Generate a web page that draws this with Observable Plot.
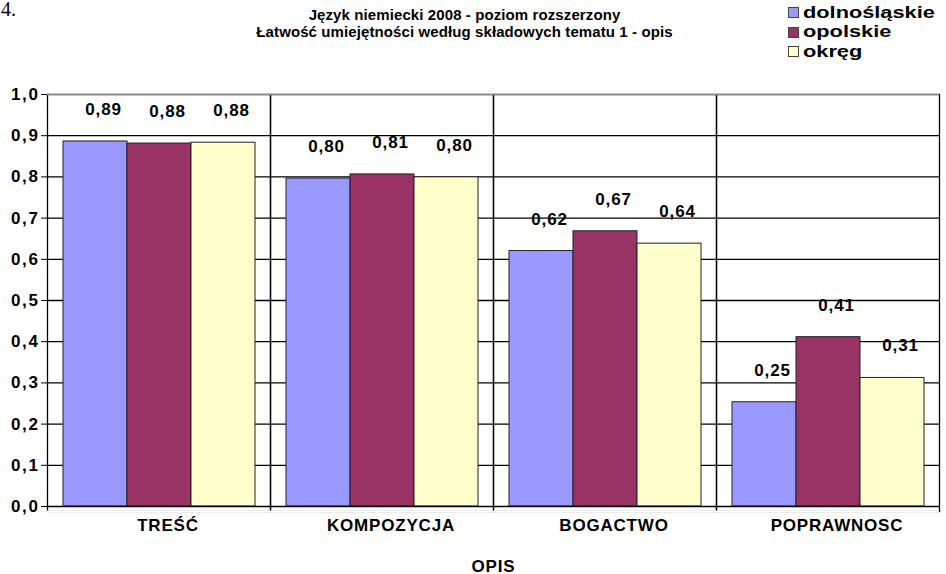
<!DOCTYPE html>
<html>
<head>
<meta charset="utf-8">
<script src="https://cdn.jsdelivr.net/npm/d3@7"></script>
<script src="https://cdn.jsdelivr.net/npm/@observablehq/plot@0.6"></script>
<style>
  html, body { margin: 0; padding: 0; background: #fff; }
  #wrap { position: relative; width: 946px; height: 574px; overflow: hidden; font-family: "Liberation Sans", Arial, sans-serif; }
  #num { position: absolute; left: 1px; top: -2px; font-family: "Liberation Serif", serif; font-size: 20px; line-height: 22px; }
  #title { position: absolute; left: 0; top: 6px; width: 929px; text-align: center; font-weight: bold; font-size: 15px; line-height: 17px; letter-spacing: 0.1px; }
  #legend { position: absolute; left: 788px; top: 3px; font-weight: bold; font-size: 17px; }
  .row { display: flex; align-items: center; height: 19.5px; }
  .row span { display: inline-block; transform: scaleX(1.28); transform-origin: left center; }
  .sw { width: 9px; height: 9px; border: 1px solid #444; margin-right: 4px; }
  #chart { position: absolute; left: 0; top: 0; }
  #chart svg text { letter-spacing: 0.8px; }
  #chart svg g[aria-label^="y-axis"] text { letter-spacing: 1.6px; }
</style>
</head>
<body>
<div id="wrap">
  <div id="chart"></div>
  <div id="num">4.</div>
  <div id="title">Język niemiecki 2008 - poziom rozszerzony<br>Łatwość umiejętności według składowych tematu 1 - opis</div>
  <div id="legend"></div>
</div>
<script>
const categories = ["TREŚĆ", "KOMPOZYCJA", "BOGACTWO", "POPRAWNOSC"];
const seriesNames = ["dolnośląskie", "opolskie", "okręg"];
const seriesColors = ["#9999FF", "#993366", "#FFFFCC"];
const dolnoslaskie = [0.886, 0.796, 0.620, 0.253];
const opolskie = [0.881, 0.806, 0.668, 0.411];
const okreg = [0.883, 0.799, 0.638, 0.312];
const yTicks = [0, 0.1, 0.2, 0.3, 0.4, 0.5, 0.6, 0.7, 0.8, 0.9, 1.0];

const seriesValues = [dolnoslaskie, opolskie, okreg];
const data = [];
categories.forEach((c, i) => {
  seriesNames.forEach((s, j) => data.push({category: c, series: s, value: seriesValues[j][i]}));
});
const comma = (v, d) => v.toFixed(d).replace(".", ",");

const chart = Plot.plot({
  width: 946,
  height: 574,
  marginTop: 94,
  marginBottom: 68,
  marginLeft: 47,
  marginRight: 7,
  style: {fontFamily: "Liberation Sans, Arial, sans-serif", fontSize: "17px", fontWeight: "bold", color: "#000", background: "white"},
  facet: {data, x: "category"},
  fx: {domain: categories, padding: 0, axis: "bottom", tickSize: 0, tickFormat: () => "", label: "OPIS", labelAnchor: "center", labelOffset: 65},
  x: {domain: seriesNames, axis: null, paddingInner: 0, paddingOuter: 0.24},
  y: {domain: [0, 1], ticks: yTicks, tickFormat: d => comma(d, 1), tickSize: 6, tickPadding: 2, label: null},
  color: {domain: seriesNames, range: seriesColors},
  marks: [
    Plot.frame({stroke: "black", strokeWidth: 1.3, insetBottom: -5}),
    Plot.ruleY([0], {stroke: "white", strokeWidth: 2, dy: 5}),
    Plot.ruleY(yTicks.filter(t => t > 0 && t < 1), {stroke: "black", strokeWidth: 1.3}),
    Plot.ruleY([1], {stroke: "#888", strokeWidth: 1.5}),
    Plot.barY(data, {x: "series", y: "value", fill: "series", stroke: "#222", strokeWidth: 1}),
    Plot.text(data, {x: "series", y: "value", text: d => comma(d.value, 2), dy: -32, dx: 8, fontSize: 17, fontWeight: "bold", fill: "black"}),
    Plot.text(data, Plot.selectFirst({text: "category", frameAnchor: "bottom", dy: 24, dx: 9, fontSize: 17, fontWeight: "bold", fill: "black"})),
    Plot.ruleY([0], {stroke: "black", strokeWidth: 1.3})
  ]
});
document.getElementById("chart").appendChild(chart);

const legend = document.getElementById("legend");
seriesNames.forEach((s, j) => {
  const row = document.createElement("div");
  row.className = "row";
  const sw = document.createElement("div");
  sw.className = "sw";
  sw.style.background = seriesColors[j];
  const t = document.createElement("span");
  t.textContent = s;
  row.appendChild(sw);
  row.appendChild(t);
  legend.appendChild(row);
});
</script>
</body>
</html>
